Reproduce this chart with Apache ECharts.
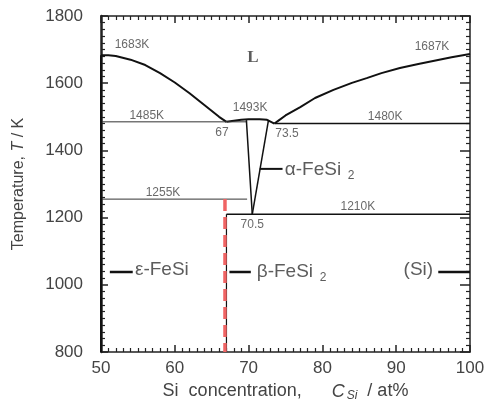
<!DOCTYPE html>
<html><head><meta charset="utf-8">
<script src="https://cdn.jsdelivr.net/npm/echarts@6/dist/echarts.min.js"></script>
<style>html,body{margin:0;padding:0;background:#fff}#c{width:484px;height:401px}</style>
</head><body><div id="c"></div>
<script>
// ---- data (Si at%, T in K) ----
const xTicks = [50, 60, 70, 80, 90, 100];
const yTicks = [800, 1000, 1200, 1400, 1600, 1800];
const liquidusLeft = [[50,1683],[51,1683],[52,1681],[54,1670],[56,1654],[58,1630],[60,1602],[62,1570],[64,1535],[66,1500],[67,1485]];
const dome = [[67,1485],[68,1488],[69,1491],[70,1493],[71.5,1493],[72.5,1491],[73.5,1480]];
const liquidusRight = [[73.5,1480],[74,1488],[75,1504],[77,1529],[79,1556],[81.5,1580],[84,1601],[86,1615],[88,1630],[90.5,1645],[93,1657],[95,1666],[97.5,1677],[100,1687]];
const eutecticLeft = [[50,1485],[69.8,1485]];
const eutecticRight = [[73.5,1480],[100,1480]];
const alphaLeft = [[69.7,1490],[70.5,1210]];
const alphaRight = [[72.7,1491],[70.5,1210]];
const line1255 = [[50,1255],[69.8,1255]];
const line1210 = [[67,1210],[100,1210]];
const betaLine = [[67,1210],[67,800]];
const redLine = [[66.8,1255],[66.8,800]];
const epsilonLine = [[50,1683],[50,800]];
const leaderEps = [[51.2,1038],[54.3,1038]];
const leaderBeta = [[67.4,1038],[70.3,1038]];
const leaderSi = [[95.7,1038],[100,1038]];
const leaderAlpha = [[71.5,1345],[74.6,1345]];
// annotations: [Si, T, text, align]
const annotations = [
  [54.2, 1714, '1683K', 'center'],
  [94.85, 1708, '1687K', 'center'],
  [70.2, 1526, '1493K', 'center'],
  [56.2, 1502, '1485K', 'center'],
  [88.5, 1499, '1480K', 'center'],
  [66.4, 1452, '67', 'center'],
  [75.2, 1449, '73.5', 'center'],
  [58.4, 1273, '1255K', 'center'],
  [84.8, 1232, '1210K', 'center'],
  [70.5, 1178, '70.5', 'center']
];
const phaseLabels = [
  [74.9, 1342, '{a|α-FeSi}{s|  2}', 'left'],
  [54.6, 1044, '{a|ε-FeSi}', 'left'],
  [71.1, 1038, '{a|β-FeSi}{s|  2}', 'left'],
  [95.0, 1044, '{a|(Si)}', 'right']
];
const liquidLabel = [[70.6, 1675, 'L']];

const chart = echarts.init(document.getElementById('c'), null, {renderer: 'canvas'});
const axisCommon = {
  type: 'value',
  axisLine: {show: true, lineStyle: {color: '#222', width: 1.5}},
  axisTick: {show: true, inside: true, length: 7, lineStyle: {color: '#222', width: 1.5}},
  minorTick: {show: true, splitNumber: 10, length: 4, lineStyle: {color: '#222', width: 1.2}},
  splitLine: {show: false},
  minorSplitLine: {show: false}
};
function lineSeries(data, width, color, type) {
  return {type: 'line', data: data, showSymbol: false, symbol: 'none', silent: true,
    lineStyle: {color: color || '#111', width: width, type: type || 'solid'}, z: 3};
}
const option = {
  animation: false,
  backgroundColor: '#fff',
  grid: {left: 101, right: 14, top: 16, bottom: 49, containLabel: false, outerBoundsMode: 'none'},
  xAxis: [
    Object.assign({}, axisCommon, {
      min: 50, max: 100, interval: 10, position: 'bottom',
      axisLabel: {show: true, fontSize: 17, color: '#444', margin: 8, fontFamily: 'Liberation Sans, Arial',
        formatter: v => xTicks.includes(v) ? String(v) : ''},
      name: 'Si  concentration,      {i|C}{s|Si}  / at%', nameLocation: 'middle', nameGap: 29,
      nameTextStyle: {fontSize: 18, color: '#444', fontFamily: 'Liberation Sans, Arial',
        rich: {i: {fontSize: 18, fontStyle: 'italic', color: '#444'}, s: {fontSize: 12, fontStyle: 'italic', color: '#444', verticalAlign: 'bottom', padding: [9, 0, 0, 2]}}}
    }),
    Object.assign({}, axisCommon, {min: 50, max: 100, interval: 10, position: 'top', axisLabel: {show: false}})
  ],
  yAxis: [
    Object.assign({}, axisCommon, {
      min: 800, max: 1800, interval: 200, position: 'left',
      axisLine: {show: true, lineStyle: {color: '#222', width: 2.5}},
      axisLabel: {show: true, fontSize: 17, color: '#444', margin: 18, fontFamily: 'Liberation Sans, Arial',
        formatter: v => yTicks.includes(v) ? String(v) : ''},
      name: 'Temperature, {i|T} / K', nameLocation: 'middle', nameGap: 74, nameRotate: 90,
      nameTextStyle: {fontSize: 16, color: '#444', fontFamily: 'Liberation Sans, Arial',
        rich: {i: {fontSize: 16, fontStyle: 'italic', color: '#444'}}}
    }),
    Object.assign({}, axisCommon, {min: 800, max: 1800, interval: 200, position: 'right', axisLabel: {show: false},
      axisTick: {show: true, inside: true, length: 10, lineStyle: {color: '#222', width: 1.5}}})
  ],
  series: [
    lineSeries(liquidusLeft, 2),
    lineSeries(dome, 2),
    lineSeries(liquidusRight, 2),
    lineSeries(eutecticLeft, 1, '#333'),
    lineSeries(eutecticRight, 1.6),
    lineSeries(alphaLeft, 1.5),
    lineSeries(alphaRight, 1.5),
    lineSeries(line1255, 1, '#333'),
    lineSeries(line1210, 1.6),
    lineSeries(betaLine, 1.2),
    lineSeries(epsilonLine, 2),
    Object.assign(lineSeries(redLine, 3.5, '#f06464', [12, 6]), {z: 4}),
    lineSeries(leaderEps, 2.5),
    lineSeries(leaderBeta, 2.5),
    lineSeries(leaderSi, 2.5),
    lineSeries(leaderAlpha, 2),
    {
      type: 'scatter', symbolSize: 0, silent: true, z: 5,
      data: annotations.map(a => ({value: [a[0], a[1]], label: {formatter: a[2], align: a[3]}})),
      label: {show: true, position: [0, 0], verticalAlign: 'middle', fontSize: 12, color: '#444', fontFamily: 'Liberation Sans, Arial'}
    },
    {
      type: 'scatter', symbolSize: 0, silent: true, z: 5,
      data: phaseLabels.map(a => ({value: [a[0], a[1]], label: {formatter: a[2], align: a[3]}})),
      label: {show: true, position: [0, 0], verticalAlign: 'middle', fontFamily: 'Liberation Sans, Arial',
        rich: {a: {fontSize: 19, color: '#333'}, s: {fontSize: 12, color: '#333', verticalAlign: 'bottom', padding: [11, 0, 0, 0]}}}
    },
    {
      type: 'scatter', symbolSize: 0, silent: true, z: 5,
      data: liquidLabel.map(a => ({value: [a[0], a[1]], label: {formatter: a[2]}})),
      label: {show: true, position: [0, 0], align: 'center', verticalAlign: 'middle', fontSize: 17, fontWeight: 'bold', color: '#333', fontFamily: 'Liberation Serif, Times New Roman'}
    }
  ]
};
chart.setOption(option);
</script></body></html>
